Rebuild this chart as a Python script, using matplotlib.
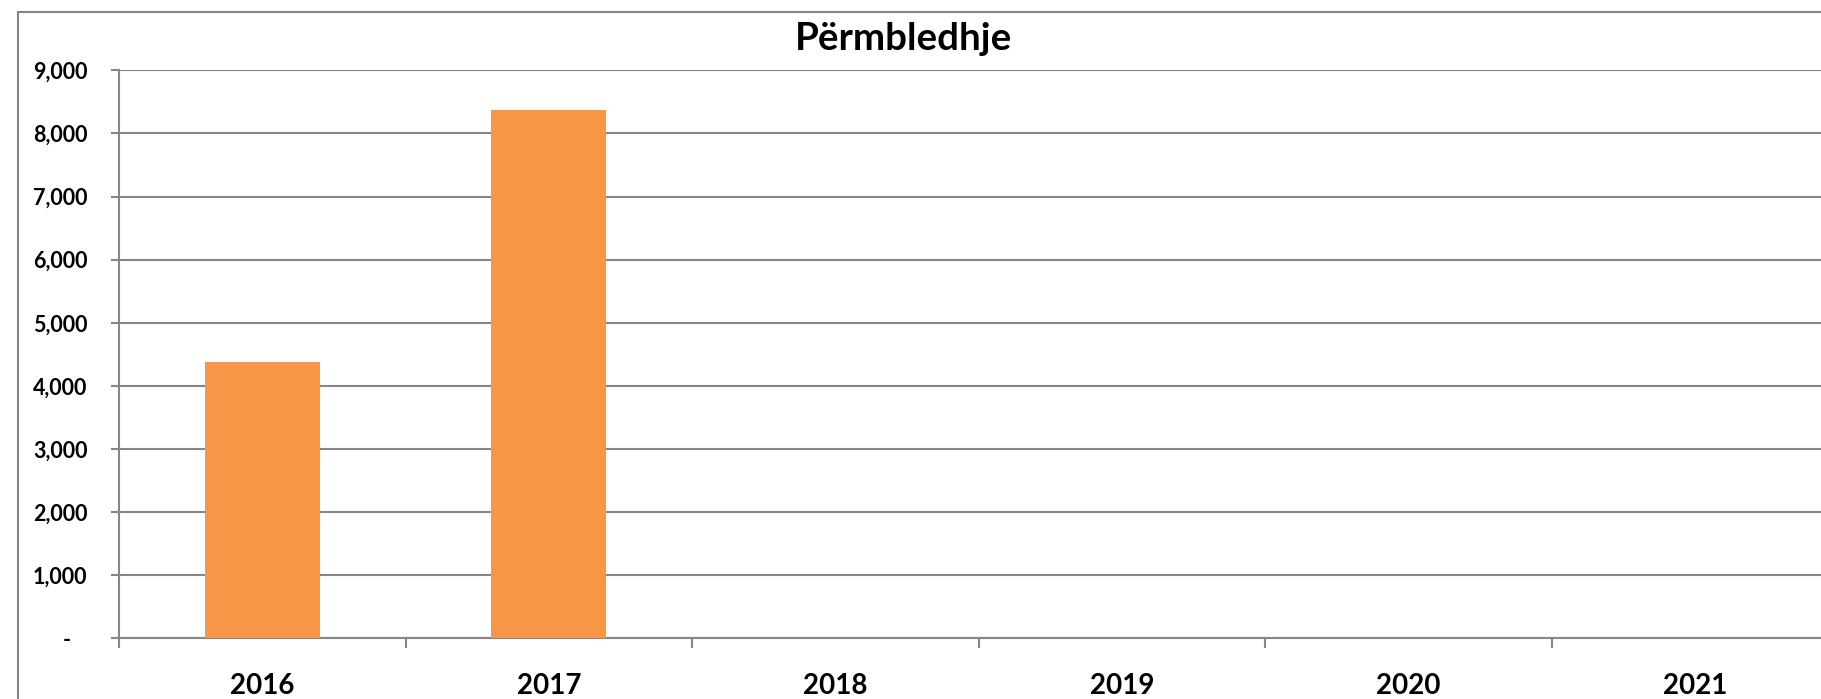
import matplotlib
matplotlib.use("Agg")
import matplotlib.pyplot as plt
from matplotlib.patches import Rectangle
from matplotlib.ticker import FuncFormatter
import numpy as np

# Data
years = ["2016", "2017", "2018", "2019", "2020", "2021"]
values = [4378, 8371, 0, 0, 0, 0]
y_ticks = [0, 1000, 2000, 3000, 4000, 5000, 6000, 7000, 8000, 9000]
title = "Përmbledhje"

W, H, DPI = 1821, 699, 100
plt.rcParams['font.family'] = ['Lato', 'DejaVu Sans']
fig = plt.figure(figsize=(W / DPI, H / DPI), dpi=DPI)
fig.patch.set_facecolor("white")

grey = "#868686"
bar_color = "#F79646"
weight = "bold"

# axes in pixel coordinates (plot area extends past right edge of figure)
x0, x1 = 119, 1838
y_top, y_bot = 70.3, 638.3
ax = fig.add_axes([x0 / W, (H - y_bot) / H, (x1 - x0) / W, (y_bot - y_top) / H])

# outer chart border (clipped at right and bottom)
border = Rectangle((17.5 / W, -0.05), 1.2, (H - 12) / H + 0.05, transform=fig.transFigure,
                   fill=False, edgecolor=grey, linewidth=1.5, zorder=0)
fig.patches.append(border)

x = np.arange(len(years))
ax.bar(x, values, width=0.4, color=bar_color, zorder=3)

ax.set_xlim(-0.5, len(years) - 0.5)
ax.set_ylim(0, 9000)
ax.set_yticks(y_ticks)
ax.yaxis.set_major_formatter(FuncFormatter(lambda v, p: "-   " if v == 0 else f"{int(v):,}"))
ax.grid(axis="y", color=grey, linewidth=1.5, zorder=1)
ax.set_axisbelow(True)

ax.set_xticks(x)
ax.set_xticklabels(years)
ax.set_xticks(np.arange(len(years) + 1) - 0.5, minor=True)
ax.tick_params(axis="x", which="major", length=0, pad=25, labelsize=20)
ax.tick_params(axis="x", which="minor", length=7.2, width=1.5, color=grey, direction="out")
ax.tick_params(axis="y", length=5.8, width=1.5, color=grey, pad=17, labelsize=15.5)
for lab in ax.get_xticklabels() + ax.get_yticklabels():
    lab.set_fontweight(weight)

for s in ["top", "right"]:
    ax.spines[s].set_visible(False)
for s in ["left", "bottom"]:
    ax.spines[s].set_color(grey)
    ax.spines[s].set_linewidth(1.5)

fig.text(903 / W, 1 - 50 / H, title, ha="center", va="baseline", fontsize=27.7, fontweight=weight)

fig.savefig("out.png", dpi=DPI)
